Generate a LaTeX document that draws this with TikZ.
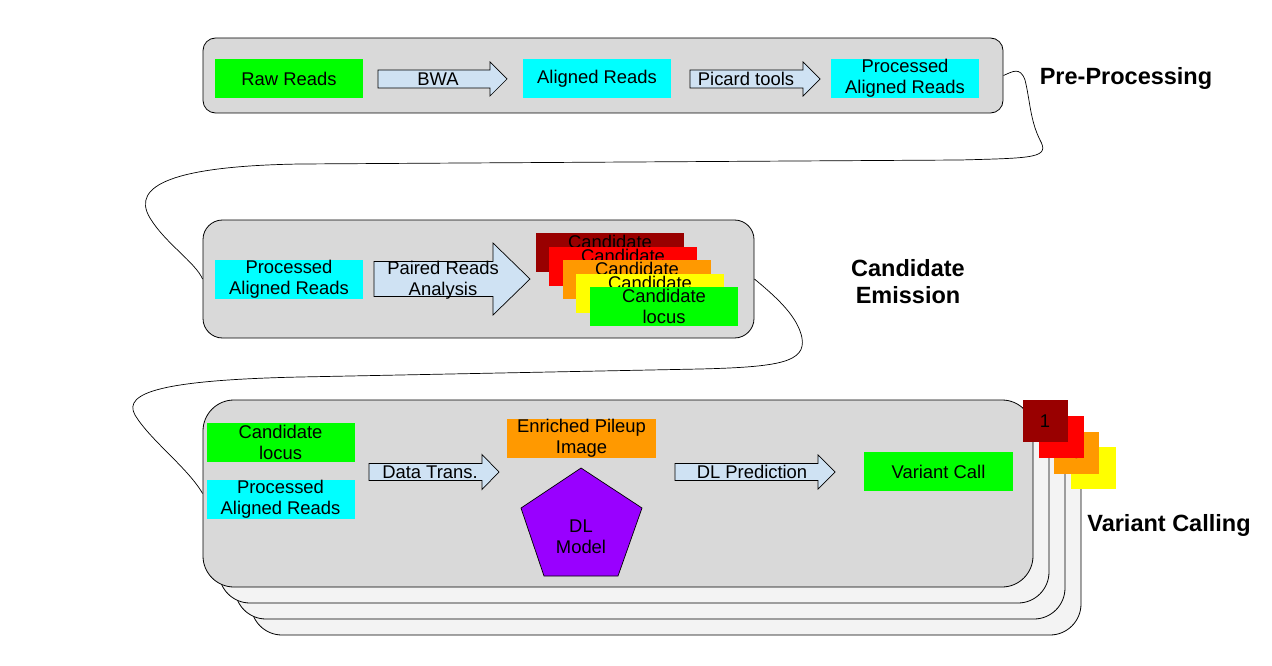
\documentclass[tikz,border=0pt]{standalone}
\usepackage{fontspec}
\setmainfont{Liberation Sans}
\usetikzlibrary{shapes.geometric}
\definecolor{boxgray}{HTML}{D9D9D9}
\definecolor{backgray}{HTML}{F3F3F3}
\definecolor{arrowblue}{HTML}{CFE2F3}
\definecolor{cgreen}{HTML}{00FF00}
\definecolor{ccyan}{HTML}{00FFFF}
\definecolor{cdarkred}{HTML}{990000}
\definecolor{cred}{HTML}{FF0000}
\definecolor{corange}{HTML}{FF9900}
\definecolor{cyellow}{HTML}{FFFF00}
\definecolor{cpurple}{HTML}{9900FF}
\newcommand\barw[7]{% name, x1, x2, yc, body half, head half, head length
  \draw[blockarrow] (#2,#4-#5) -- (#3-#7,#4-#5) -- (#3-#7,#4-#6) -- (#3,#4)
     -- (#3-#7,#4+#6) -- (#3-#7,#4+#5) -- (#2,#4+#5) -- cycle;
  \coordinate (#1) at (#2,#4);}
\begin{document}
\begin{tikzpicture}[x=1pt,y=-1pt,
  font=\fontsize{18.4}{21}\selectfont,
  stage/.style={draw=black, fill=boxgray, line width=0.8pt, inner sep=0pt},
  backstage/.style={draw=black, fill=backgray, line width=0.8pt, inner sep=0pt,
     rounded corners=31pt, minimum width=830pt, minimum height=187pt},
  blk/.style={inner sep=0pt, minimum width=148pt, minimum height=39pt, align=center, text=black},
  sq/.style={inner sep=0pt, minimum width=45pt, minimum height=42pt, text=black},
  blockarrow/.style={draw=black, fill=arrowblue, line width=0.7pt},
  lbl/.style={inner sep=0pt, align=center, text=black},
  title/.style={inner sep=0pt, align=center, font=\fontsize{23.5}{27}\selectfont\bfseries},
  conn/.style={draw=black, line width=0.7pt}]
\useasboundingbox (0,0) rectangle (1272,666);

% ---------- Pre-processing ----------
\node[stage, rounded corners=12.5pt, minimum width=800pt, minimum height=75pt] (pre) at (603,75.5) {};
\node[blk, fill=cgreen] (raw) at (289,78.5) {Raw Reads};
\barw{a1}{378}{507}{79}{9}{17}{17}
\node[lbl] (bwa) at (438,79) {BWA};
\node[blk, fill=ccyan] (aligned) at (597,78.5) {Aligned Reads};
\barw{a2}{690}{820}{79}{9}{17}{17}
\node[lbl] (picard) at (746,79) {Picard tools};
\node[blk, fill=ccyan] (proc1) at (905,78.5) {Processed\\Aligned Reads};
\node[title] (tpre) at (1126,78) {Pre-Processing};

% ---------- Candidate emission ----------
\node[stage, rounded corners=19.5pt, minimum width=551pt, minimum height=118pt] (ce) at (478.5,279) {};
\node[blk, fill=ccyan] (proc2) at (289,279) {Processed\\Aligned Reads};
\barw{a3}{374}{530}{279}{17.5}{36}{37}
\node[lbl] (paired) at (443,280) {Paired Reads\\Analysis};
\node[blk, fill=cdarkred] (c1) at (610,252.5) {Candidate\\locus};
\node[blk, fill=cred] (c2) at (623,266) {Candidate\\locus};
\node[blk, fill=corange] (c3) at (637,279.5) {Candidate\\locus};
\node[blk, fill=cyellow] (c4) at (650,293) {Candidate\\locus};
\node[blk, fill=cgreen] (c5) at (664,306.5) {Candidate\\locus};
\node[title] (tce) at (908,281.5) {Candidate\\Emission};

% ---------- Variant calling ----------
\node[backstage] (vb3) at (666,541.5) {};
\node[backstage] (vb2) at (650,525.5) {};
\node[backstage] (vb1) at (634,509.5) {};
\node[stage, rounded corners=31pt, minimum width=830pt, minimum height=187pt] (vc) at (618,493.5) {};
\node[blk, fill=cgreen] (locus) at (280.5,442.5) {Candidate\\locus};
\node[blk, fill=ccyan] (proc3) at (280.5,499.5) {Processed\\Aligned Reads};
\barw{a4}{369}{499}{472}{8.5}{17.5}{17}
\node[lbl] (dtrans) at (430,472) {Data Trans.};
\node[blk, fill=corange, minimum width=149pt] (pileup) at (581.5,438.5) {Enriched Pileup\\Image};
\draw[draw=black, fill=cpurple, line width=0.7pt]
  (581,468) -- (642,508) -- (618,576) -- (544,576) -- (521,508) -- cycle;
\node[lbl] (dlmodel) at (581,537) {DL\\Model};
\barw{a5}{675}{835}{472}{8.5}{17}{17}
\node[lbl] (dlpred) at (752,472) {DL Prediction};
\node[blk, fill=cgreen, minimum width=149pt] (vcall) at (938.5,471.5) {Variant Call};
\node[sq, fill=cyellow] (s4) at (1093,468) {4};
\node[sq, fill=corange] (s3) at (1076.5,452.5) {3};
\node[sq, fill=cred] (s2) at (1061,436.5) {2};
\node[sq, fill=cdarkred] (s1) at (1045,421) {1};
\node[title] (tvc) at (1169,525) {Variant Calling};

% ---------- connectors ----------
\draw[conn] (pre.east) .. controls (1012,72) and (1020,66) .. (1025,80)
  .. controls (1030,100) and (1030,120) .. (1040,140)
  .. controls (1050,158) and (1035,158) .. (960,160)
  -- (300,164) .. controls (175,166) and (130,185) .. (150,218)
  .. controls (165,243) and (195,262) .. (ce.west);
\draw[conn] (ce.east) .. controls (780,300) and (798,318) .. (802,338)
  .. controls (806,362) and (780,367) .. (700,369)
  -- (300,377) .. controls (165,380) and (122,392) .. (135,415)
  .. controls (150,440) and (188,468) .. (vc.west);
\end{tikzpicture}
\end{document}
